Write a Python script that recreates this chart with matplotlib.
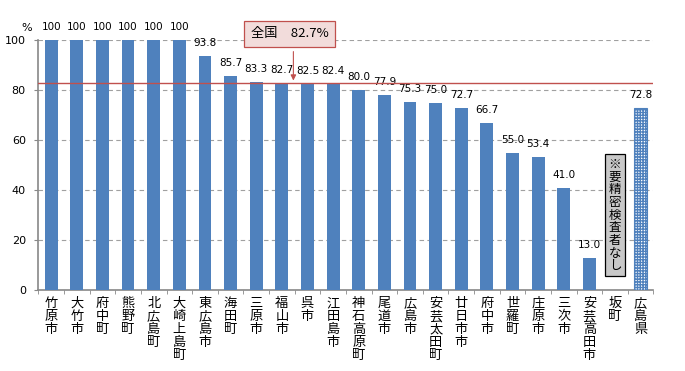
import numpy as np
import matplotlib.pyplot as plt

plt.rcParams['font.family'] = ['Noto Sans CJK JP', 'DejaVu Sans']

names = ['竹原市', '大竹市', '府中町', '熊野町', '北広島町', '大崎上島町', '東広島市',
         '海田町', '三原市', '福山市', '呉市', '江田島市', '神石高原町', '尾道市',
         '広島市', '安芸太田町', '廿日市市', '府中市', '世羅町', '庄原市', '三次市',
         '安芸高田市', '坂町', '広島県']
values = [100, 100, 100, 100, 100, 100, 93.8, 85.7, 83.3, 82.7, 82.5, 82.4, 80.0,
          77.9, 75.3, 75.0, 72.7, 66.7, 55.0, 53.4, 41.0, 13.0, None, 72.8]
value_text = ['100', '100', '100', '100', '100', '100', '93.8', '85.7', '83.3', '82.7',
              '82.5', '82.4', '80.0', '77.9', '75.3', '75.0', '72.7', '66.7', '55.0',
              '53.4', '41.0', '13.0', '', '72.8']
national = 82.7
yticks = [0, 20, 40, 60, 80, 100]

blue = '#4f81bd'
fig = plt.figure(figsize=(6.85, 3.71), dpi=100)
ax = fig.add_axes([0.056, 0.218, 0.898, 0.674])

x = np.arange(len(names))
for i, v in enumerate(values):
    if v is None:
        continue
    if names[i] == '広島県':
        ax.bar(i, v, width=0.5, facecolor='white', edgecolor=blue, hatch='++++++',
               linewidth=0.8, zorder=3)
    else:
        ax.bar(i, v, width=0.5, color=blue, zorder=3)
    ax.text(i, v + 3.2, value_text[i], ha='center', va='bottom', fontsize=7.5,
            family='DejaVu Sans', zorder=4)

ax.axhline(national, color='#c0504d', linewidth=1.0, zorder=4)

ax.set_xlim(-0.5, len(names) - 0.5)
ax.set_ylim(0, 100)
ax.set_yticks(yticks)
ax.set_yticklabels([str(t) for t in yticks], fontsize=8, family='DejaVu Sans')
ax.yaxis.grid(True, linestyle=(0, (4, 3)), color='#a0a0a0', linewidth=0.8)
ax.set_axisbelow(True)

ax.set_xticks(x)
ax.set_xticklabels(['\n'.join(n) for n in names], fontsize=9.5, linespacing=1.0,
                   va='top')
ax.tick_params(axis='x', length=0, pad=5)
ax.set_xticks(np.arange(len(names) + 1) - 0.5, minor=True)
ax.tick_params(axis='x', which='minor', length=3, color='#888888', direction='out')
ax.tick_params(axis='y', length=3, color='#888888', direction='out', pad=6)

for s in ['top', 'right']:
    ax.spines[s].set_visible(False)
for s in ['left', 'bottom']:
    ax.spines[s].set_color('#888888')
    ax.spines[s].set_linewidth(1.2)

ax.text(-0.75, 103, '%', fontsize=8, family='DejaVu Sans', ha='right', va='bottom',
        clip_on=False)

# national average callout
ax.annotate('', xy=(9.45, national), xytext=(9.45, 96.5),
            arrowprops=dict(arrowstyle='-|>', color='#c0504d', lw=0.8,
                            mutation_scale=8), zorder=5)
ax.text(9.3, 102.5, '全国　82.7%', ha='center', va='center', fontsize=9.5,
        zorder=6, clip_on=False,
        bbox=dict(boxstyle='square,pad=0.5', facecolor='#f2dcdb',
                  edgecolor='#c0504d', linewidth=0.9))

# note for 坂町
ax.text(22, 30, '\n'.join('※要精密検査者なし'), ha='center', va='center',
        fontsize=9, linespacing=0.97, zorder=6,
        bbox=dict(boxstyle='square,pad=0.3', facecolor='#c8c8c8',
                  edgecolor='black', linewidth=0.9))

fig.savefig('out.png', dpi=100)
